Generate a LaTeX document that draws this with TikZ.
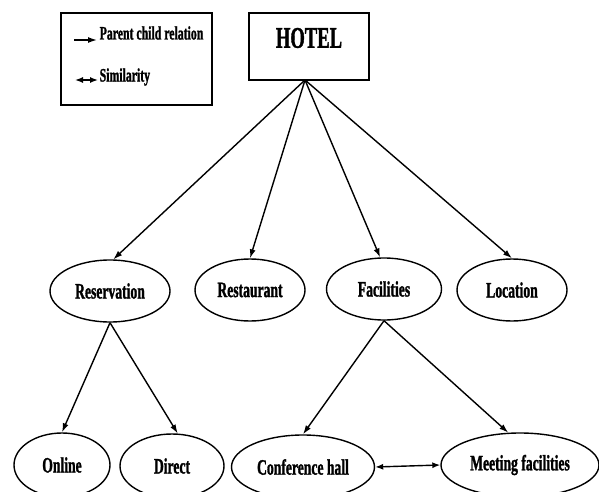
\documentclass[tikz,border=0pt]{standalone}
\usepackage{fontspec}
\setmainfont{Liberation Serif}[FakeStretch=0.62, BoldFeatures={FakeBold=1.2}]
\usetikzlibrary{shapes.geometric,arrows.meta}
\begin{document}
\begin{tikzpicture}[x=1pt, y=-1pt, line width=1.4pt,
  every node/.style={inner sep=0pt, font=\bfseries\fontsize{22}{24}\selectfont},
  topic/.style={ellipse, draw, minimum width=#1, minimum height=62pt},
  leaf/.style={ellipse, draw, minimum width=#1, minimum height=64pt},
  legtext/.style={anchor=west, font=\bfseries\fontsize{19}{21}\selectfont},
  rel/.style={-{Latex[length=9pt,width=6pt]}},
  sim/.style={{Latex[length=8pt,width=6pt]}-{Latex[length=8pt,width=6pt]}}]

  \clip (0,0) rectangle (599,492);

  % Legend
  \node (legend) [draw, minimum width=151pt, minimum height=92pt] at (136.5,59) {};
  \coordinate (relA) at (74,40);
  \coordinate (relB) at (97,40);
  \coordinate (simA) at (75,80);
  \coordinate (simB) at (98,80);
  \draw[rel] (relA) -- (relB);
  \draw[sim] (simA) -- (simB);
  \node (reltext) [legtext] at (99,33) {Parent child relation};
  \node (simtext) [legtext] at (99,77) {Similarity};

  % Root
  \node (hotel) [draw, line width=1.6pt, minimum width=120pt, minimum height=67pt] at (309,46.5) {};
  \node (hoteltext) [font=\bfseries\fontsize{30}{32}\selectfont] at (309,38) {HOTEL};
  \coordinate (hub) at (305,80);

  % Second level
  \node (res)  [topic=120pt] at (110,291) {Reservation};
  \node (rest) [topic=110pt] at (250,290) {Restaurant};
  \node (fac)  [topic=115pt] at (384,289) {Facilities};
  \node (loc)  [topic=110pt] at (512,290) {Location};

  % Third level
  \node (onl)  [leaf=96pt]  at (62,465)  {Online};
  \node (dir)  [leaf=104pt] at (172,466) {Direct};
  \node (conf) [leaf=143pt] at (303,467) {Conference hall};
  \node (meet) [leaf=158pt] at (520,465) {Meeting facilities};

  % Relations
  \draw[rel] (hub) -- (res.84);
  \draw[rel] (hub) -- (rest.north);
  \draw[rel] (hub) -- (fac.97);
  \draw[rel] (hub) -- (loc.north);
  \draw[rel] (res.south) -- (onl.north);
  \draw[rel] (res.south) -- (dir.80);
  \draw[rel] (fac.south) -- (conf.north);
  \draw[rel] (fac.south) -- (meet.110);
  \draw[sim] (conf.east) -- (meet.west);

\end{tikzpicture}
\end{document}
